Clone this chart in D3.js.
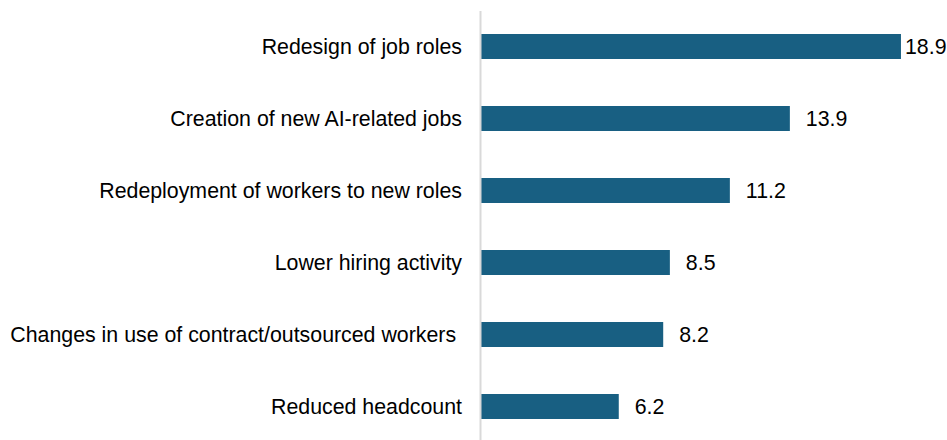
<!DOCTYPE html>
<html>
<head>
<meta charset="utf-8">
<script src="https://cdn.jsdelivr.net/npm/d3@7"></script>
<style>
  html, body { margin: 0; padding: 0; background: #fff; }
  svg { display: block; }
  text { font-family: "Liberation Sans", Arial, sans-serif; }
</style>
</head>
<body>
<svg id="chart" width="947" height="440"></svg>
<script>
// Share of responses by expected workforce impact
const categories = [
  "Redesign of job roles",
  "Creation of new AI-related jobs",
  "Redeployment of workers to new roles",
  "Lower hiring activity",
  "Changes in use of contract/outsourced workers ",
  "Reduced headcount"
];
const values = [18.9, 13.9, 11.2, 8.5, 8.2, 6.2];
const valueLabels = ["18.9", "13.9", "11.2", "8.5", "8.2", "6.2"];

const W = 947, H = 440;
const FONT_SIZE = 21.33;
const svg = d3.select("#chart");

const x = d3.scaleLinear().domain([0, 20]).range([481, 925.4]);
const y = d3.scaleBand()
  .domain(categories)
  .range([10.5, 442.5])
  .paddingInner(0.6528)
  .paddingOuter(0.3264);

// bars
svg.append("g")
  .selectAll("rect")
  .data(values)
  .join("rect")
  .attr("x", x(0))
  .attr("y", (d, i) => y(categories[i]))
  .attr("width", d => x(d) - x(0))
  .attr("height", y.bandwidth())
  .attr("fill", "#185F82");

// category axis
const axis = svg.append("g")
  .attr("transform", "translate(480,0)")
  .call(d3.axisLeft(y).tickSize(0).tickPadding(18));
axis.select(".domain")
  .attr("stroke", "#D9D9D9")
  .attr("stroke-width", 2);
axis.selectAll(".tick text")
  .attr("xml:space", "preserve")
  .style("white-space", "pre")
  .attr("font-family", "'Liberation Sans', Arial, sans-serif")
  .attr("font-size", FONT_SIZE)
  .attr("fill", "#000")
  .attr("dy", "0.34em");

// value labels, kept inside the right edge
svg.append("g")
  .selectAll("text")
  .data(values)
  .join("text")
  .text((d, i) => valueLabels[i])
  .attr("font-size", FONT_SIZE)
  .attr("fill", "#000")
  .attr("y", (d, i) => y(categories[i]) + y.bandwidth() / 2)
  .attr("dy", "0.35em")
  .attr("x", function (d) {
    const w = this.getComputedTextLength();
    return Math.min(x(d) + 16, W - 0.5 - w);
  });
</script>
</body>
</html>
